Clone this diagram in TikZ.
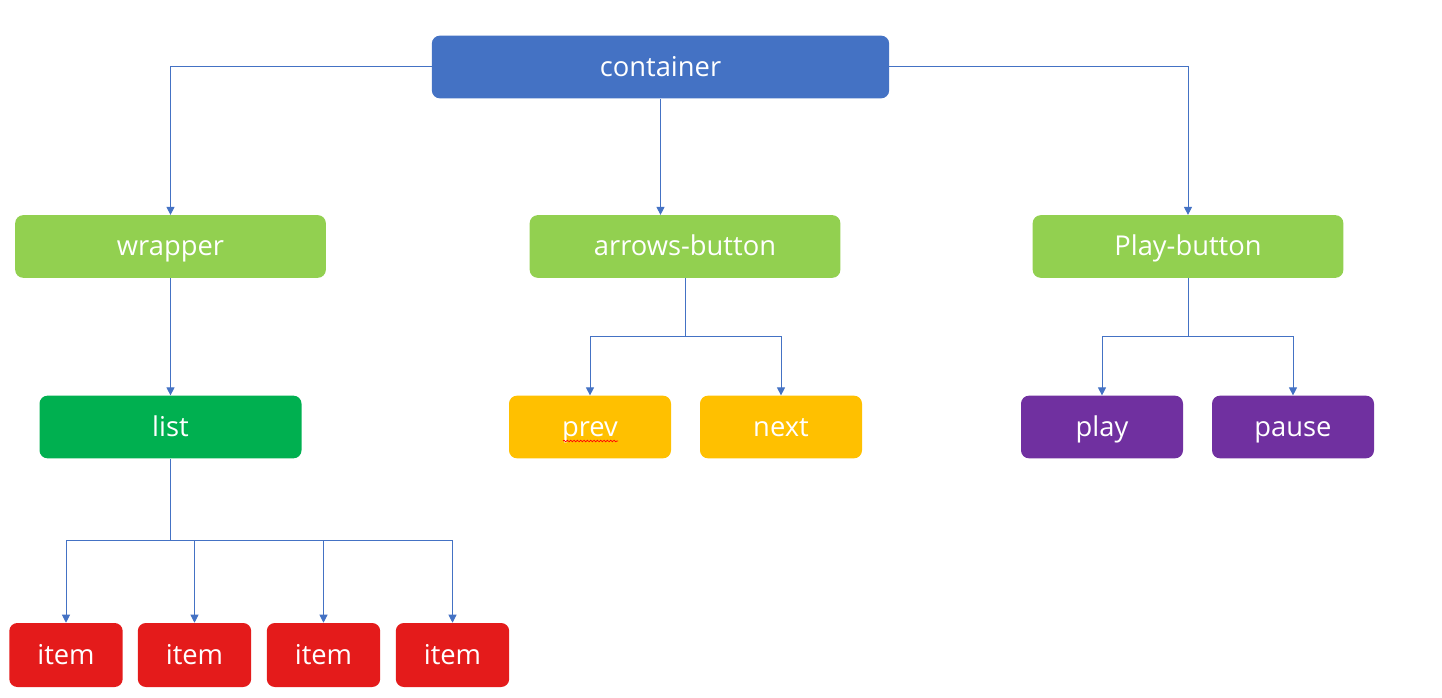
\documentclass[tikz,border=0pt]{standalone}
\usepackage{fontspec}
\setmainfont{Open Sans}
\usetikzlibrary{arrows.meta,calc,decorations.pathmorphing}
\definecolor{cwire}{HTML}{4472C4}
\definecolor{cmid}{HTML}{92D050}
\definecolor{clist}{HTML}{00B050}
\definecolor{cnav}{HTML}{FFC000}
\definecolor{cplay}{HTML}{7030A0}
\definecolor{citem}{HTML}{E41B1B}
\tikzset{
  every picture/.style={x=0.75pt, y=-0.75pt, font=\fontsize{20.5}{24}\selectfont},
  blk/.style={rounded corners=6pt, text=white, inner sep=0pt, minimum height=47pt,
    text height=1.5em, text depth=0.08em},
  wire/.style={cwire, line width=0.75pt},
  link/.style={wire, -{Triangle[length=6pt,width=6pt]}},
  spell/.style={red, line width=0.5pt, decorate,
    decoration={snake, amplitude=0.6pt, segment length=2.5pt}},
}
\def\wmid{233pt}
\def\wsub{121.5pt}

\begin{document}
\begin{tikzpicture}
  \path[use as bounding box] (0,0) rectangle (1442,698);
  % boxes
  \node[blk, fill=cwire, minimum width=343pt] (container) at (660.5,67) {container};
  \node[blk, fill=cmid, minimum width=\wmid] (wrapper) at (170.5,246.5) {wrapper};
  \node[blk, fill=cmid, minimum width=\wmid] (arrows) at (685,246.5) {arrows-button};
  \node[blk, fill=cmid, minimum width=\wmid] (playbtn) at (1188,246.5) {Play-button};
  \node[blk, fill=clist, minimum width=196.5pt] (list) at (170.5,427) {list};
  \node[blk, fill=cnav, minimum width=\wsub] (prev) at (590,427) {prev};
  \node[blk, fill=cnav, minimum width=\wsub] (next) at (781,427) {next};
  \node[blk, fill=cplay, minimum width=\wsub] (play) at (1102,427) {play};
  \node[blk, fill=cplay, minimum width=\wsub] (pause) at (1293,427) {pause};
  \foreach \x [count=\i] in {66,194.5,323.5,452.5}
    \node[blk, fill=citem, minimum width=85pt, minimum height=48pt] (item\i) at (\x,655) {item};
  \draw[spell] ($(prev.center)+(-27,14)$) -- ++(55,0);
  % connectors
  \draw[link] (container.west) -| (wrapper.north);
  \draw[link] (container.south) -- (container.south |- arrows.north);
  \draw[link] (container.east) -| (playbtn.north);
  \draw[link] (wrapper.south) -- (list.north);
  \coordinate (ajoin) at ($(arrows.south)!0.5!(arrows.south |- prev.north)$);
  \draw[wire] (arrows.south) -- (ajoin);
  \draw[link] (ajoin) -| (prev.north);
  \draw[link] (ajoin) -| (next.north);
  \coordinate (pjoin) at ($(playbtn.south)!0.5!(playbtn.south |- play.north)$);
  \draw[wire] (playbtn.south) -- (pjoin);
  \draw[link] (pjoin) -| (play.north);
  \draw[link] (pjoin) -| (pause.north);
  \coordinate (ljoin) at ($(list.south)!0.5!(list.south |- item1.north)$);
  \draw[wire] (list.south) -- (ljoin);
  \foreach \i in {1,...,4}
    \draw[link] (ljoin) -| (item\i.north);
\end{tikzpicture}
\end{document}
